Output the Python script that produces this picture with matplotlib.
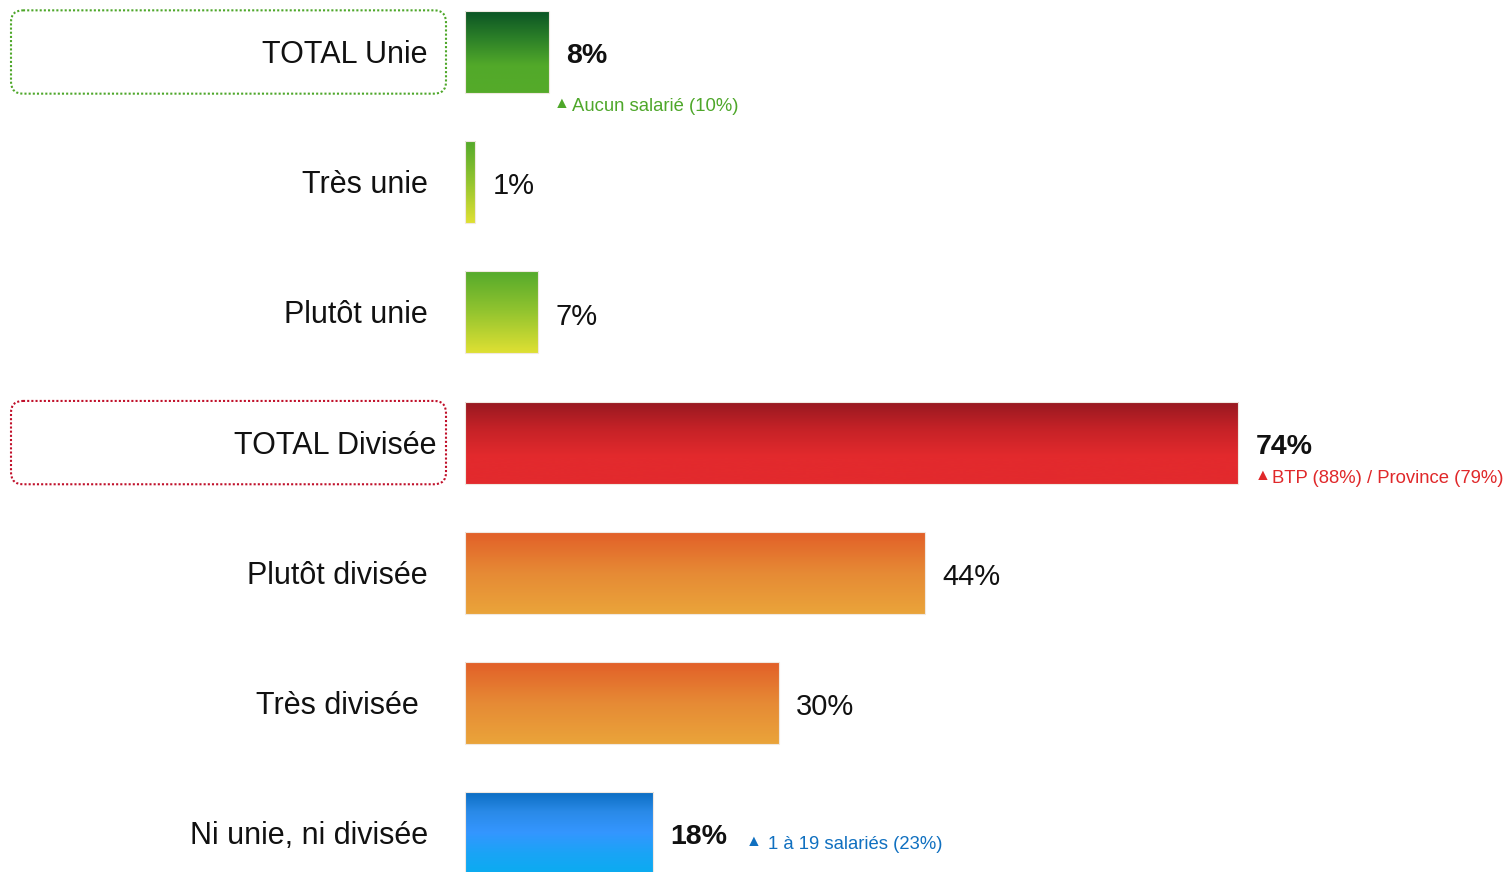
import matplotlib.pyplot as plt
import numpy as np
from matplotlib.colors import LinearSegmentedColormap
from matplotlib.patches import FancyBboxPatch

plt.rcParams['font.family'] = ['Liberation Sans', 'DejaVu Sans']

labels = ["TOTAL Unie", "Très unie", "Plutôt unie", "TOTAL Divisée",
          "Plutôt divisée", "Très divisée", "Ni unie, ni divisée"]
values = [8, 1, 7, 74, 44, 30, 18]
bold = [True, False, False, True, False, False, True]
notes = {0: "Aucun salarié (10%)", 3: "BTP (88%) / Province (79%)",
         6: "1 à 19 salariés (23%)"}

# gradients, top of the bar first
grad_green_dark = ["#0a5224", "#2b7f28", "#52a92a", "#55ab2a"]
grad_green_light = ["#53a92b", "#93c42f", "#dfe033"]
grad_red = ["#961820", "#c52227", "#e32a2d", "#e32a2d"]
grad_orange = ["#e25e28", "#e68a35", "#eaa43a"]
grad_blue = ["#0a6cc0", "#2a8ae8", "#3496ff", "#1aa4f6", "#0aacf0"]
bar_grads = [grad_green_dark, grad_green_light, grad_green_light, grad_red,
             grad_orange, grad_orange, grad_blue]
note_colors = {0: "#4ea72a", 3: "#e0282a", 6: "#1070c0"}

fig = plt.figure(figsize=(15.09, 8.72), dpi=100)
ax = fig.add_axes([0, 0, 1, 1])
px_x = 10.45   # pixels per percent
px_y = 130.2   # pixels per row
ax.set_xlim(-465 / px_x, (1509 - 465) / px_x)
ax.set_ylim((872 - 52) / px_y, -52 / px_y)
ax.axis("off")

y = np.arange(len(values))
bars = ax.barh(y, values, height=0.63, color="none", edgecolor="none")

for i, (bar, grad) in enumerate(zip(bars, bar_grads)):
    x0, y0 = bar.get_x(), bar.get_y()
    w, h = bar.get_width(), bar.get_height()
    cmap = LinearSegmentedColormap.from_list("g%d" % i, grad)
    img = ax.imshow(np.linspace(0, 1, 256).reshape(-1, 1), cmap=cmap,
                    extent=[x0, x0 + w, y0 + h, y0], aspect="auto",
                    interpolation="bicubic", zorder=2)
    img.set_clip_path(bar)
    ax.add_patch(plt.Rectangle((x0, y0), w, h, fill=False,
                               edgecolor="#f0e8e0", lw=0.8, zorder=3))

# right edge of each category label, in pixels left of the bars
label_gap = [37, 37, 37, 29, 37, 46, 37]
for i, lab in enumerate(labels):
    ax.text(-label_gap[i] / px_x, y[i] + 3 / px_y, lab, ha="right",
            va="center", fontsize=22, color="#111111")

for i, v in enumerate(values):
    ax.annotate("%d%%" % v, (v, y[i]), xytext=(12.5, -3),
                textcoords="offset points", ha="left", va="center",
                fontsize=21 if not bold[i] else 20.5,
                fontweight="bold" if bold[i] else "normal", color="#111111")

# sub-group notes: (triangle x, text x, y) offsets in points from bar end
note_offsets = {0: (4, 17, -38), 3: (12, 24, -25), 6: (67, 83, -7)}
for i, txt in notes.items():
    tx, dx, dy = note_offsets[i]
    ax.annotate("▲", (values[i], y[i]), xytext=(tx, dy + 1),
                textcoords="offset points", ha="left", va="center",
                fontsize=11.5, color=note_colors[i])
    ax.annotate(txt, (values[i], y[i]), xytext=(dx, dy - 1),
                textcoords="offset points", ha="left", va="center",
                fontsize=13.3, color=note_colors[i])

# dotted rounded frames around the totals
for i, col in [(0, "#4ea72a"), (3, "#c0102a")]:
    r = 12 / px_x
    box = FancyBboxPatch((-454 / px_x, y[i] - 0.32), 435 / px_x, 0.64,
                         boxstyle="round,pad=0,rounding_size=%f" % r,
                         mutation_aspect=px_x / px_y,
                         fill=False, edgecolor=col, lw=1.5,
                         linestyle=(0, (1, 1)), zorder=1)
    ax.add_patch(box)

fig.savefig("out.png", dpi=100, facecolor="white")
